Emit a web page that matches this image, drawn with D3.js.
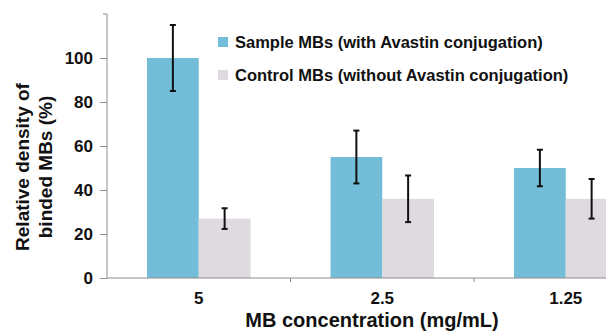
<!DOCTYPE html>
<html>
<head>
<meta charset="utf-8">
<script src="https://cdn.jsdelivr.net/npm/d3@7"></script>
<style>
  body { margin: 0; background: #fff; }
  text { font-family: "Liberation Sans", Arial, sans-serif; font-weight: bold; fill: #111; }
</style>
</head>
<body>
<svg id="chart" width="606" height="332"></svg>
<script>
const categories = ['5', '2.5', '1.25'];
const seriesNames = ['Sample MBs (with Avastin conjugation)', 'Control MBs (without Avastin conjugation)'];
const sampleValues = [100, 55, 50];
const sampleErrors = [15, 12, 8.3];
const controlValues = [27, 36, 36];
const controlErrors = [4.7, 10.6, 9];
const yTicks = [0, 20, 40, 60, 80, 100];
const colors = ['#73bdd8', '#dedae0'];

const svg = d3.select('#chart');
const x0 = 107, yTop = 14, yBottom = 278;

const y = d3.scaleLinear().domain([0, 120]).range([yBottom, yTop]);
const x = d3.scaleBand().domain(categories).range([x0, x0 + 183.5 * 3]).paddingInner(0).paddingOuter(0);
const xInner = d3.scaleBand().domain([0, 1]).range([40, x.bandwidth() - 40]);

const series = [
    { values: sampleValues, errors: sampleErrors },
    { values: controlValues, errors: controlErrors }
];

// bars
series.forEach((s, si) => {
    svg.append('g').selectAll('rect')
        .data(categories)
        .enter().append('rect')
        .attr('x', d => x(d) + xInner(si))
        .attr('width', xInner.bandwidth())
        .attr('y', (d, i) => y(s.values[i]))
        .attr('height', (d, i) => y(0) - y(s.values[i]))
        .style('fill', colors[si]);
});

// error bars
series.forEach((s, si) => {
    const g = svg.append('g').attr('stroke', '#111').attr('stroke-width', 2);
    categories.forEach((c, i) => {
        const cx = x(c) + xInner(si) + xInner.bandwidth() / 2;
        const hi = y(s.values[i] + s.errors[i]);
        const lo = y(s.values[i] - s.errors[i]);
        g.append('line').attr('x1', cx).attr('x2', cx).attr('y1', hi).attr('y2', lo);
        g.append('line').attr('x1', cx - 3).attr('x2', cx + 3).attr('y1', hi).attr('y2', hi);
        g.append('line').attr('x1', cx - 3).attr('x2', cx + 3).attr('y1', lo).attr('y2', lo);
    });
});

// y axis
const yAxis = svg.append('g')
    .attr('transform', `translate(${x0},0)`)
    .call(d3.axisLeft(y).tickValues(yTicks).tickSize(7).tickPadding(7));
yAxis.select('.domain').attr('stroke', '#8c8c8c').attr('d', `M-4,${yTop}H0V${yBottom}`);
yAxis.selectAll('.tick line').attr('stroke', '#8c8c8c');
yAxis.selectAll('.tick text').style('font-size', '17px').style('font-family', '"Liberation Sans", Arial, sans-serif').style('font-weight', 'bold').attr('fill', '#111');

// x axis
const xAxis = svg.append('g')
    .attr('transform', `translate(0,${yBottom})`)
    .call(d3.axisBottom(x).tickSize(0).tickPadding(14));
xAxis.select('.domain').attr('stroke', '#8c8c8c').attr('d', `M${x0},0H606`);
xAxis.selectAll('.tick text').style('font-size', '17px').style('font-family', '"Liberation Sans", Arial, sans-serif').style('font-weight', 'bold').attr('fill', '#111');
xAxis.selectAll('.sep')
    .data(categories.slice(1))
    .enter().append('line')
    .attr('x1', d => x(d)).attr('x2', d => x(d))
    .attr('y1', 0).attr('y2', 4)
    .attr('stroke', '#8c8c8c');

// axis titles
svg.append('text')
    .attr('x', 372).attr('y', 327)
    .attr('text-anchor', 'middle')
    .style('font-size', '20px')
    .text('MB concentration (mg/mL)');

const yTitle = svg.append('text')
    .attr('transform', 'translate(0,167) rotate(-90)')
    .attr('text-anchor', 'middle')
    .style('font-size', '19px');
yTitle.append('tspan').attr('x', 0).attr('y', 29).text('Relative density of');
yTitle.append('tspan').attr('x', 0).attr('y', 52).text('binded MBs (%)');

// legend
const legend = svg.append('g');
seriesNames.forEach((name, i) => {
    const ly = 42 + i * 33;
    legend.append('rect')
        .attr('x', 218).attr('y', ly - 5).attr('width', 10).attr('height', 10)
        .style('fill', colors[i]);
    legend.append('text')
        .attr('x', 235).attr('y', ly + 6)
        .style('font-size', '16.5px')
        .text(name);
});
</script>
</body>
</html>
